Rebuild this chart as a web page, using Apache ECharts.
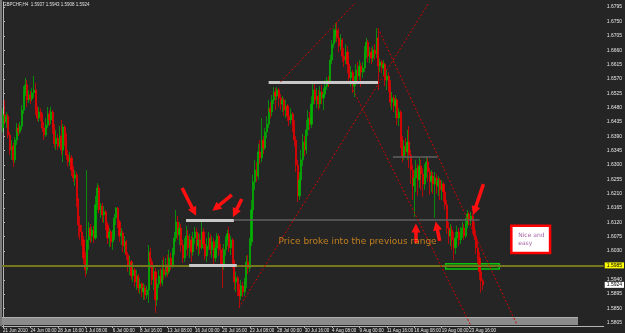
<!DOCTYPE html>
<html><head><meta charset="utf-8">
<script src="https://cdn.jsdelivr.net/npm/echarts@6/dist/echarts.min.js"></script>
<style>html,body{margin:0;padding:0;background:#252525;}#c{width:625px;height:333px;}</style>
</head><body><div id="c"></div>
<script>
const titleText = 'GBPCHF,H4  1.5937 1.5943 1.5908 1.5924';
const firstOpen = 1.6416;
const closes = [
1.6457,1.6435,1.6453,1.6394,1.6347,1.6359,1.6316,1.6378,1.6416,1.6403,
1.6422,1.6472,1.6529,1.6551,1.6504,1.6519,1.6507,1.6526,1.6535,1.6472,
1.6447,1.6466,1.6453,1.6416,1.6394,1.6425,1.6460,1.6441,1.6466,1.6416,
1.6366,1.6384,1.6359,1.6391,1.6347,1.6419,1.6378,1.6331,1.6309,1.6322,
1.6284,1.6259,1.6269,1.6190,1.6112,1.6090,1.6065,1.6008,1.5971,1.6065,
1.6102,1.6077,1.6096,1.6071,1.6175,1.6228,1.6159,1.6171,1.6143,1.6153,
1.6112,1.6071,1.6090,1.6059,1.6077,1.6134,1.6165,1.6121,1.6077,1.6087,
1.6046,1.6059,1.6018,1.5983,1.5996,1.5952,1.5971,1.5933,1.5952,1.5914,
1.5927,1.5902,1.5914,1.5892,1.5908,1.6027,1.5996,1.5940,1.5965,1.5877,
1.5927,1.5952,1.5930,1.5971,1.5955,1.5987,1.5965,1.6008,1.5983,1.6027,
1.6071,1.6121,1.6081,1.6102,1.6049,1.6008,1.6052,1.6077,1.6040,1.6065,
1.6027,1.6071,1.6090,1.6046,1.6065,1.6040,1.6090,1.6052,1.6015,1.6046,
1.6071,1.6034,1.6059,1.6008,1.6040,1.6077,1.6034,1.5996,1.5983,1.6034,
1.6065,1.6084,1.6040,1.6065,1.5996,1.5933,1.5946,1.5908,1.5889,1.5921,
1.5902,1.5933,1.5996,1.5977,1.6059,1.6159,1.6247,1.6284,1.6265,1.6341,
1.6322,1.6378,1.6353,1.6403,1.6428,1.6478,1.6466,1.6504,1.6529,1.6516,
1.6535,1.6510,1.6491,1.6504,1.6472,1.6485,1.6453,1.6441,1.6460,1.6425,
1.6378,1.6300,1.6203,1.6253,1.6316,1.6372,1.6347,1.6410,1.6447,1.6428,
1.6491,1.6535,1.6504,1.6516,1.6491,1.6529,1.6510,1.6522,1.6547,1.6566,
1.6560,1.6629,1.6679,1.6704,1.6723,1.6698,1.6673,1.6692,1.6641,1.6629,
1.6654,1.6616,1.6573,1.6591,1.6547,1.6560,1.6598,1.6579,1.6610,1.6591,
1.6604,1.6654,1.6685,1.6641,1.6654,1.6635,1.6660,1.6648,1.6698,1.6610,
1.6623,1.6604,1.6616,1.6566,1.6579,1.6547,1.6497,1.6510,1.6485,1.6504,
1.6447,1.6466,1.6378,1.6328,1.6359,1.6341,1.6372,1.6331,1.6284,1.6234,
1.6259,1.6290,1.6253,1.6297,1.6272,1.6240,1.6284,1.6309,1.6278,1.6247,
1.6265,1.6240,1.6259,1.6234,1.6253,1.6222,1.6240,1.6215,1.6175,1.6102,
1.6077,1.6096,1.6065,1.6040,1.6071,1.6090,1.6065,1.6087,1.6102,1.6077,
1.6115,1.6146,1.6128,1.6140,1.6102,1.6077,1.6040,1.6008,1.5965,1.5937,
1.5924];
const highs = [
1.6478,1.6504,1.6466,1.6460,1.6403,1.6378,1.6369,1.6388,1.6431,1.6428,
1.6435,1.6488,1.6547,1.6573,1.6566,1.6535,1.6532,1.6541,1.6579,1.6557,
1.6485,1.6482,1.6478,1.6463,1.6435,1.6447,1.6482,1.6472,1.6482,1.6472,
1.6428,1.6410,1.6397,1.6422,1.6441,1.6428,1.6425,1.6400,1.6347,1.6341,
1.6331,1.6297,1.6284,1.6278,1.6196,1.6140,1.6112,1.6077,1.6027,1.6284,
1.6121,1.6115,1.6106,1.6109,1.6203,1.6243,1.6237,1.6181,1.6181,1.6171,
1.6159,1.6121,1.6102,1.6096,1.6096,1.6146,1.6168,1.6168,1.6128,1.6102,
1.6093,1.6077,1.6065,1.6027,1.6015,1.6002,1.5993,1.5977,1.5971,1.5958,
1.5946,1.5933,1.5930,1.5924,1.5921,1.6049,1.6040,1.6008,1.5983,1.5977,
1.5946,1.5971,1.5977,1.6002,1.6012,1.6008,1.6018,1.6034,1.6024,1.6040,
1.6090,1.6159,1.6140,1.6121,1.6115,1.6065,1.6071,1.6109,1.6096,1.6084,
1.6077,1.6090,1.6106,1.6102,1.6087,1.6084,1.6131,1.6102,1.6065,1.6071,
1.6090,1.6084,1.6077,1.6071,1.6065,1.6087,1.6084,1.6052,1.6040,1.6052,
1.6077,1.6096,1.6106,1.6077,1.6071,1.6002,1.5965,1.5952,1.5927,1.5940,
1.5933,1.5946,1.6015,1.6018,1.6071,1.6190,1.6269,1.6316,1.6309,1.6366,
1.6378,1.6447,1.6391,1.6416,1.6453,1.6504,1.6497,1.6519,1.6544,1.6541,
1.6544,1.6541,1.6522,1.6516,1.6510,1.6504,1.6491,1.6472,1.6478,1.6466,
1.6441,1.6391,1.6316,1.6278,1.6347,1.6397,1.6391,1.6441,1.6472,1.6466,
1.6516,1.6560,1.6560,1.6541,1.6535,1.6547,1.6551,1.6541,1.6566,1.6576,
1.6579,1.6645,1.6692,1.6729,1.6745,1.6748,1.6729,1.6710,1.6698,1.6667,
1.6679,1.6673,1.6623,1.6610,1.6598,1.6579,1.6616,1.6623,1.6629,1.6620,
1.6623,1.6673,1.6698,1.6692,1.6670,1.6667,1.6673,1.6679,1.6729,1.6723,
1.6635,1.6629,1.6629,1.6620,1.6598,1.6591,1.6566,1.6529,1.6519,1.6519,
1.6510,1.6478,1.6472,1.6391,1.6378,1.6384,1.6410,1.6422,1.6347,1.6300,
1.6284,1.6316,1.6303,1.6322,1.6316,1.6290,1.6303,1.6328,1.6322,1.6290,
1.6284,1.6278,1.6278,1.6272,1.6265,1.6259,1.6253,1.6247,1.6222,1.6190,
1.6121,1.6115,1.6109,1.6090,1.6090,1.6109,1.6102,1.6106,1.6121,1.6115,
1.6134,1.6159,1.6153,1.6153,1.6146,1.6121,1.6096,1.6065,1.6027,1.5983,
1.5943];
const lows = [
1.6403,1.6428,1.6416,1.6384,1.6331,1.6316,1.6294,1.6306,1.6363,1.6391,
1.6397,1.6410,1.6460,1.6516,1.6482,1.6494,1.6491,1.6500,1.6510,1.6457,
1.6438,1.6435,1.6438,1.6403,1.6378,1.6388,1.6416,1.6422,1.6428,1.6397,
1.6353,1.6347,1.6347,1.6353,1.6331,1.6309,1.6359,1.6316,1.6294,1.6297,
1.6265,1.6247,1.6234,1.6168,1.6074,1.6065,1.6046,1.5990,1.5949,1.5958,
1.6034,1.6055,1.6059,1.6055,1.6065,1.6159,1.6149,1.6134,1.6121,1.6118,
1.6096,1.6052,1.6043,1.6043,1.6034,1.6065,1.6112,1.6102,1.6059,1.6049,
1.6027,1.6024,1.6002,1.5965,1.5955,1.5940,1.5933,1.5918,1.5908,1.5899,
1.5896,1.5886,1.5877,1.5877,1.5880,1.5867,1.5977,1.5924,1.5908,1.5836,
1.5858,1.5914,1.5918,1.5921,1.5940,1.5946,1.5949,1.5958,1.5971,1.5977,
1.6018,1.6059,1.6065,1.6049,1.6027,1.5993,1.5996,1.6034,1.6015,1.6008,
1.5996,1.6015,1.6052,1.6034,1.6015,1.6021,1.6034,1.6037,1.6002,1.5996,
1.6034,1.6018,1.6008,1.5983,1.5996,1.6021,1.6015,1.5980,1.5914,1.5971,
1.6015,1.6046,1.6027,1.6018,1.5977,1.5908,1.5902,1.5889,1.5852,1.5877,
1.5886,1.5889,1.5914,1.5958,1.5965,1.6046,1.6146,1.6222,1.6247,1.6253,
1.6303,1.6309,1.6334,1.6347,1.6384,1.6416,1.6447,1.6453,1.6491,1.6472,
1.6504,1.6482,1.6472,1.6466,1.6453,1.6447,1.6438,1.6422,1.6428,1.6403,
1.6359,1.6278,1.6184,1.6190,1.6234,1.6297,1.6328,1.6334,1.6391,1.6410,
1.6416,1.6472,1.6491,1.6478,1.6472,1.6478,1.6491,1.6472,1.6516,1.6535,
1.6544,1.6554,1.6616,1.6667,1.6685,1.6685,1.6654,1.6660,1.6623,1.6607,
1.6616,1.6588,1.6554,1.6547,1.6526,1.6513,1.6547,1.6560,1.6566,1.6544,
1.6573,1.6591,1.6635,1.6623,1.6620,1.6616,1.6623,1.6629,1.6635,1.6535,
1.6591,1.6588,1.6579,1.6547,1.6535,1.6529,1.6482,1.6472,1.6466,1.6447,
1.6425,1.6422,1.6353,1.6309,1.6316,1.6322,1.6316,1.6290,1.6240,1.6190,
1.6137,1.6215,1.6203,1.6228,1.6222,1.6200,1.6222,1.6259,1.6247,1.6206,
1.6215,1.6209,1.6134,1.6209,1.6203,1.6190,1.6190,1.6184,1.6159,1.6084,
1.6052,1.6046,1.6034,1.6002,1.6021,1.6052,1.6046,1.6052,1.6071,1.6065,
1.6071,1.6102,1.6109,1.6109,1.6084,1.6065,1.6021,1.5990,1.5940,1.5899,
1.5908];
const dateTicks = ['21 Jun 2010','24 Jun 00:00','28 Jun 16:00','1 Jul 08:00','6 Jul 00:00','8 Jul 16:00',
  '13 Jul 08:00','16 Jul 00:00','20 Jul 16:00','23 Jul 08:00','28 Jul 00:00','30 Jul 16:00',
  '4 Aug 08:00','9 Aug 00:00','11 Aug 16:00','16 Aug 08:00','19 Aug 00:00','23 Aug 16:00'];
const priceTicks = [1.5805,1.5850,1.5895,1.5940,1.5985,1.6030,1.6075,1.6120,1.6165,1.6210,1.6255,1.6300,
  1.6345,1.6390,1.6435,1.6480,1.6525,1.6570,1.6615,1.6660,1.6705,1.6750,1.6795];
const levelPrice = 1.5985;
const lastPrice = 1.5924;
// annotations: [barIndex, price]
const trendLines = [
  [[137.6,1.5852],[248.4,1.6808]],
  [[161.9,1.6560],[205.5,1.6808]],
  [[218.8,1.6729],[300.0,1.5798]],
  [[204.3,1.6535],[272.8,1.5798]]
];
const arrowLines = [
  [[104.5,1.6228],[111.5,1.6153]],
  [[133.5,1.6206],[124.2,1.6165]],
  [[139.3,1.6193],[135.3,1.6149]],
  [[240.9,1.6055],[240.9,1.6102]],
  [[254.8,1.6062],[253.0,1.6109]],
  [[280.3,1.6240],[275.1,1.6156]]
];
const rangeBars = [
  [[106.8,1.6126],[134.7,1.6126]],
  [[108.6,1.5986],[136.4,1.5986]],
  [[155.0,1.6560],[218.8,1.6560]]
];
const grayLevels = [
  [[134.7,1.6128],[278.0,1.6128]],
  [[227.5,1.6325],[253.6,1.6325]]
];
const greenBox = [[258.3,1.5990],[289.6,1.5974]];
const noteBox = [[296.6,1.6109],[319.2,1.6024]];
const rangeNote = {text:'Price broke into the previous range', at:[160.8,1.6059]};
const easyNote = {text:'Nice and\neasy', at:[300.6,1.6068]};

const N_TOTAL = 351;
const categories = Array.from({length: N_TOTAL}, (_, i) => String(i));
const opens = [firstOpen].concat(closes.slice(0, -1));
const candles = closes.map((c, i) => [opens[i], c, lows[i], highs[i]]);
const tickInterval = (idx) => idx % 16 === 0 && idx / 16 < dateTicks.length;
const FONT = 'Liberation Sans';

const chart = echarts.init(document.getElementById('c'), null, {renderer:'canvas'});
chart.setOption({
  animation: false,
  backgroundColor: '#252525',
  title: {text: titleText, left: 3, top: 2, padding: 0,
    textStyle: {color:'#e0e0e0', fontSize:4.5, fontWeight:'normal', fontFamily: FONT}},
  grid: {left: 2, right: 18, top: 2, bottom: 7},
  xAxis: [{
    type:'category', data: categories, boundaryGap: true,
    axisLine:{show:true, lineStyle:{color:'#b4b4b4'}},
    axisTick:{show:true, alignWithLabel:true, interval: tickInterval, length:2, lineStyle:{color:'#b4b4b4'}},
    axisLabel:{interval: tickInterval, formatter:(v, idx) => dateTicks[idx/16] || '', align:'left',
      color:'#e6e6e6', fontSize:4.5, margin:2, fontFamily: FONT, hideOverlap:false},
    splitLine:{show:false}
  },{
    type:'value', min:-0.5, max:N_TOTAL-0.5, show:false
  }],
  yAxis: {
    type:'value', position:'right', min:1.5795, max:1.6811,
    splitLine:{show:false},
    axisLine:{show:true, lineStyle:{color:'#b4b4b4'}},
    axisTick:{show:true, customValues: priceTicks, length:2, lineStyle:{color:'#b4b4b4'}},
    axisLabel:{customValues: priceTicks.filter(v => v !== levelPrice), formatter: v => v.toFixed(4),
      color:'#e6e6e6', fontSize:5, margin:3, fontFamily: FONT}
  },
  graphic: [
    {type:'rect', z:3, shape:{x:0, y:317, width:578, height:8}, style:{fill:'#8c8c8c'}},
    {type:'rect', z:3, shape:{x:0, y:317, width:578, height:1}, style:{fill:'#b0b0b0'}},
    {type:'rect', z:3, shape:{x:0, y:0, width:2, height:326}, style:{fill:'#7a7a7a'}}
  ],
  series: [
    {
      type:'candlestick', data: candles, barWidth: 1.6, z:2,
      itemStyle:{color:'#00b400', color0:'#f00000', borderColor:'#00b400', borderColor0:'#f00000', borderWidth:0.7},
      markLine:{symbol:['none','none'], silent:true, animation:false, precision:4,
        data:[
          {yAxis: levelPrice, lineStyle:{color:'#76761c', width:2, type:'solid'},
           label:{show:true, position:'end', distance:1, formatter: p => Number(p.value).toFixed(4),
             backgroundColor:'#ffff00', color:'#000', fontSize:5, padding:[1,2,0,2], fontFamily: FONT}},
          {yAxis: lastPrice, lineStyle:{color:'rgba(0,0,0,0)', width:0},
           label:{show:true, position:'end', distance:1, formatter: p => Number(p.value).toFixed(4),
             backgroundColor:'#ffffff', color:'#000', fontSize:5, padding:[1,2,0,2], fontFamily: FONT}}
        ]}
    },
    {type:'lines', coordinateSystem:'cartesian2d', xAxisIndex:1, yAxisIndex:0, z:4, silent:true,
     data: grayLevels.map(c => ({coords:c})), symbol:'none',
     lineStyle:{color:'#606060', width:1.5, opacity:1}},
    {type:'lines', coordinateSystem:'cartesian2d', xAxisIndex:1, yAxisIndex:0, z:5, silent:true,
     data: rangeBars.map(c => ({coords:c})), symbol:'none',
     lineStyle:{color:'#c8c8c8', width:3, opacity:1}},
    {type:'scatter', xAxisIndex:1, yAxisIndex:0, z:5, silent:true, symbolSize:0, data:[],
     markArea:{silent:true, data:[
       [{coord: greenBox[0], itemStyle:{color:'rgba(0,70,0,0.6)', borderColor:'#10c010', borderWidth:1.5}}, {coord: greenBox[1]}],
       [{coord: noteBox[0], itemStyle:{color:'#ffffff', borderColor:'#ff0000', borderWidth:2.5}}, {coord: noteBox[1]}]
     ]}},
    {type:'lines', coordinateSystem:'cartesian2d', xAxisIndex:1, yAxisIndex:0, z:6, silent:true,
     data: trendLines.map(c => ({coords:c})), symbol:'none',
     lineStyle:{color:'#d00000', width:1, type:[2,2], opacity:1}},
    {type:'lines', coordinateSystem:'cartesian2d', xAxisIndex:1, yAxisIndex:0, z:7, silent:true,
     data: arrowLines.map(c => ({coords:c})), symbol:['none','triangle'], symbolSize:9,
     lineStyle:{color:'#ff1010', width:3.5, opacity:1}},
    {type:'scatter', xAxisIndex:1, yAxisIndex:0, z:8, silent:true, symbolSize:0,
     data:[
       {value: rangeNote.at, label:{show:true, position:'right', distance:0, formatter: rangeNote.text,
         color:'#e8961e', fontSize:9, fontFamily:'DejaVu Sans'}},
       {value: easyNote.at, label:{show:true, position:'right', distance:0, formatter: easyNote.text,
         color:'#8b3a8b', fontSize:6, lineHeight:8, fontFamily:'DejaVu Sans'}}
     ]}
  ]
});
</script></body></html>
